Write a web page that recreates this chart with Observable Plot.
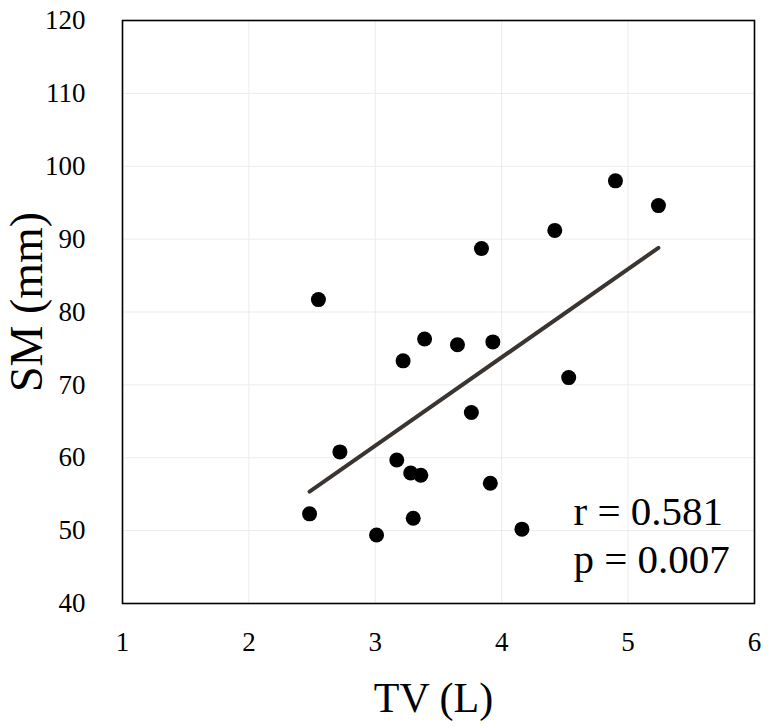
<!DOCTYPE html>
<html>
<head>
<meta charset="utf-8">
<script src="https://cdn.jsdelivr.net/npm/d3@7"></script>
<script src="https://cdn.jsdelivr.net/npm/@observablehq/plot@0.6"></script>
<style>
  html, body { margin: 0; padding: 0; background: #fff; }
</style>
</head>
<body>
<div id="chart"></div>
<script>
// Data
const tv = [2.55, 2.48, 2.72, 3.01, 3.17, 3.22, 3.28, 3.36, 3.30, 3.39,
            3.65, 3.76, 3.84, 3.91, 3.93, 4.16, 4.42, 4.53, 4.90, 5.24];
const sm = [81.7, 52.3, 60.8, 49.4, 59.7, 73.3, 57.9, 57.6, 51.7, 76.3,
            75.5, 66.2, 88.7, 56.5, 75.9, 50.2, 91.2, 71.0, 98.0, 94.6];
const xTicks = [1, 2, 3, 4, 5, 6];
const yTicks = [40, 50, 60, 70, 80, 90, 100, 110, 120];
const xLabel = "TV (L)";
const yLabel = "SM (mm)";
const statR = "r = 0.581";
const statP = "p = 0.007";

const data = tv.map((x, i) => ({tv: x, sm: sm[i]}));

const serif = "'Liberation Serif', 'Times New Roman', 'DejaVu Serif', serif";

const chart = Plot.plot({
  width: 768,
  height: 727,
  marginLeft: 122,
  marginRight: 14,
  marginTop: 20,
  marginBottom: 124,
  style: {fontFamily: serif, background: "#fff", color: "#000"},
  x: {domain: [1, 6]},
  y: {domain: [40, 120]},
  marks: [
    Plot.gridX(xTicks, {stroke: "#ececec", strokeOpacity: 1}),
    Plot.gridY(yTicks, {stroke: "#ececec", strokeOpacity: 1}),
    Plot.axisX(xTicks, {tickSize: 0, tickPadding: 28, fontSize: 27, label: null, tickFormat: d => String(d)}),
    Plot.axisY(yTicks, {tickSize: 0, tickPadding: 37, fontSize: 27, label: null, tickFormat: d => String(d)}),
    Plot.linearRegressionY(data, {x: "tv", y: "sm", stroke: "#3b3531", strokeWidth: 4, ci: 0}),
    Plot.dot(data, {x: "tv", y: "sm", r: 7.5, fill: "#000", stroke: "none"}),
    Plot.frame({stroke: "#000", strokeWidth: 1.6}),
    Plot.text([statR], {frameAnchor: "bottom-right", textAnchor: "start", dx: -181, dy: -79, fontSize: 41, fill: "#000"}),
    Plot.text([statP], {frameAnchor: "bottom-right", textAnchor: "start", dx: -181, dy: -31, fontSize: 41, fill: "#000"}),
    Plot.text([xLabel], {frameAnchor: "bottom", textAnchor: "middle", dx: -5, dy: 108, fontSize: 42, fill: "#000"}),
    Plot.text([yLabel], {frameAnchor: "left", textAnchor: "middle", lineAnchor: "middle", rotate: -90, dx: -95, dy: -10, fontSize: 46, fill: "#000"})
  ]
});
document.getElementById("chart").appendChild(chart);
</script>
</body>
</html>
